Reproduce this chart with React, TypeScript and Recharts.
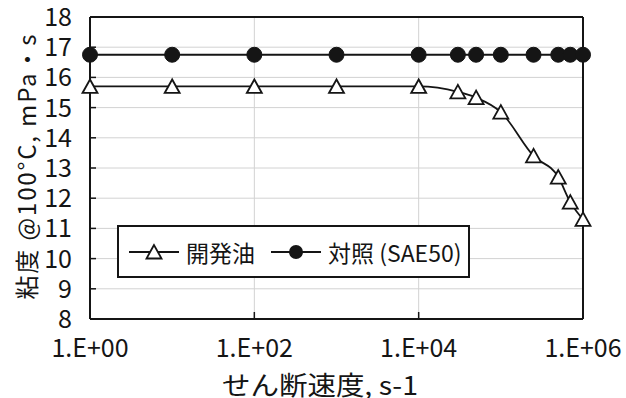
import React from 'react';
import {
  ComposedChart,
  Line,
  XAxis,
  YAxis,
  CartesianGrid,
  ReferenceLine,
  Legend,
} from 'recharts';

const shearRates = [1, 10, 100, 1000, 1e4, 3e4, 5e4, 1e5, 2.5e5, 5e5, 7e5, 1e6];
const devOil = [15.7, 15.7, 15.7, 15.7, 15.7, 15.52, 15.33, 14.85, 13.4, 12.7, 11.87, 11.3];
const refOil = [16.75, 16.75, 16.75, 16.75, 16.75, 16.75, 16.75, 16.75, 16.75, 16.75, 16.75, 16.75];
const xTicks = [1, 100, 1e4, 1e6];
const yTicks = [8, 9, 10, 11, 12, 13, 14, 15, 16, 17, 18];
const seriesKeys = ['dev', 'ref'];
const seriesNames = ['開発油', '対照 (SAE50)'];
const xTitle = 'せん断速度, s-1';
const yTitle = '粘度 @100°C, mPa・s';

const data = shearRates.map((x, i) => ({ x, dev: devOil[i], ref: refOil[i] }));

const FONT = '"Noto Sans CJK JP", "Noto Sans", sans-serif';
const INK = '#151515';

const fmtX = (v: number) => {
  const e = Math.round(Math.log10(v));
  return '1.E+' + String(e).padStart(2, '0');
};

const YTick = (p: any) => {
  const { x, y, payload } = p;
  return (
    <g>
      <line x1={x} x2={x + 6} y1={y} y2={y} stroke={INK} strokeWidth={1.5} />
      <text x={x - 18} y={y} dy={9} textAnchor="end" fontSize={25} fill={INK} fontFamily={FONT}>
        {payload.value}
      </text>
    </g>
  );
};

const XTick = (p: any) => {
  const { x, y, payload } = p;
  return (
    <g>
      <line x1={x} x2={x} y1={y} y2={y - 7} stroke={INK} strokeWidth={1.5} />
      <text x={x} y={y + 38} textAnchor="middle" fontSize={25} fill={INK} fontFamily={FONT}>
        {fmtX(payload.value)}
      </text>
    </g>
  );
};

const TriDot = (p: any) => {
  const { cx, cy } = p;
  if (cx == null || cy == null) return null;
  return (
    <polygon
      points={`${cx},${cy - 7} ${cx - 7.5},${cy + 6.5} ${cx + 7.5},${cy + 6.5}`}
      fill="#fff"
      stroke={INK}
      strokeWidth={1.8}
    />
  );
};

const CircleDot = (p: any) => {
  const { cx, cy } = p;
  if (cx == null || cy == null) return null;
  return <circle cx={cx} cy={cy} r={7.5} fill={INK} stroke={INK} />;
};

const LegendContent = (props: any) => {
  const payload = [...(props.payload || [])].sort(
    (a: any, b: any) => seriesKeys.indexOf(a.dataKey) - seriesKeys.indexOf(b.dataKey)
  );
  return (
    <div
      style={{
        boxSizing: 'border-box',
        width: 353,
        height: 53,
        border: `2px solid ${INK}`,
        background: '#fff',
        display: 'flex',
        alignItems: 'center',
        paddingLeft: 10,
        fontFamily: FONT,
        fontSize: 23,
        color: INK,
      }}
    >
      {payload.map((entry: any, i: number) => (
        <div key={i} style={{ display: 'flex', alignItems: 'center', marginRight: i === 0 ? 16 : 0 }}>
          <svg width={50} height={20} style={{ marginRight: 7 }}>
            <line x1={0} x2={50} y1={10} y2={10} stroke={INK} strokeWidth={1.8} />
            {entry.dataKey === 'dev' ? (
              <polygon points="25,3 17.5,16.5 32.5,16.5" fill="#fff" stroke={INK} strokeWidth={1.8} />
            ) : (
              <circle cx={25} cy={10} r={7} fill={INK} />
            )}
          </svg>
          <span style={{ lineHeight: '24px' }}>{entry.value}</span>
        </div>
      ))}
    </div>
  );
};

export default function App() {
  return (
    <div style={{ position: 'absolute', left: 0, top: 0, width: 626, height: 398, background: '#fff' }}>
      <ComposedChart
        width={626}
        height={398}
        data={data}
        margin={{ top: 17, right: 43, left: 0, bottom: 0 }}
        style={{ fontFamily: FONT }}
      >
        <CartesianGrid stroke="#d2d2d2" strokeWidth={1} />
        <XAxis
          dataKey="x"
          type="number"
          scale="log"
          domain={[1, 1e6]}
          ticks={xTicks}
          interval={0}
          height={79}
          tickSize={0}
          tickMargin={0}
          tick={<XTick />}
          axisLine={{ stroke: INK, strokeWidth: 2 }}
          label={{
            content: () => (
              <text
                x={320}
                y={383}
                textAnchor="middle"
                dominantBaseline="central"
                fontSize={26}
                fill={INK}
                fontFamily={FONT}
                textLength={196}
                lengthAdjust="spacingAndGlyphs"
              >
                {xTitle}
              </text>
            ),
          }}
        />
        <YAxis
          type="number"
          domain={[8, 18]}
          ticks={yTicks}
          interval={0}
          width={90}
          tickSize={0}
          tickMargin={0}
          tick={<YTick />}
          axisLine={{ stroke: INK, strokeWidth: 2 }}
          label={{
            content: () => (
              <text
                x={25}
                y={167}
                transform="rotate(-90, 25, 167)"
                textAnchor="middle"
                dominantBaseline="central"
                fontSize={24}
                fill={INK}
                fontFamily={FONT}
                textLength={265}
                lengthAdjust="spacing"
              >
                {yTitle}
              </text>
            ),
          }}
        />
        <ReferenceLine y={18} stroke={INK} strokeWidth={2} />
        <ReferenceLine x={1e6} stroke={INK} strokeWidth={2} />
        <Legend
          layout="horizontal"
          verticalAlign="middle"
          align="center"
          wrapperStyle={{ left: 117, top: 225, width: 353, height: 53 }}
          content={<LegendContent />}
        />
        <Line
          dataKey="dev"
          name={seriesNames[0]}
          type="monotone"
          stroke={INK}
          strokeWidth={1.8}
          dot={<TriDot />}
          activeDot={false}
          isAnimationActive={false}
        />
        <Line
          dataKey="ref"
          name={seriesNames[1]}
          type="linear"
          stroke={INK}
          strokeWidth={1.8}
          dot={<CircleDot />}
          activeDot={false}
          isAnimationActive={false}
        />
      </ComposedChart>
    </div>
  );
}
